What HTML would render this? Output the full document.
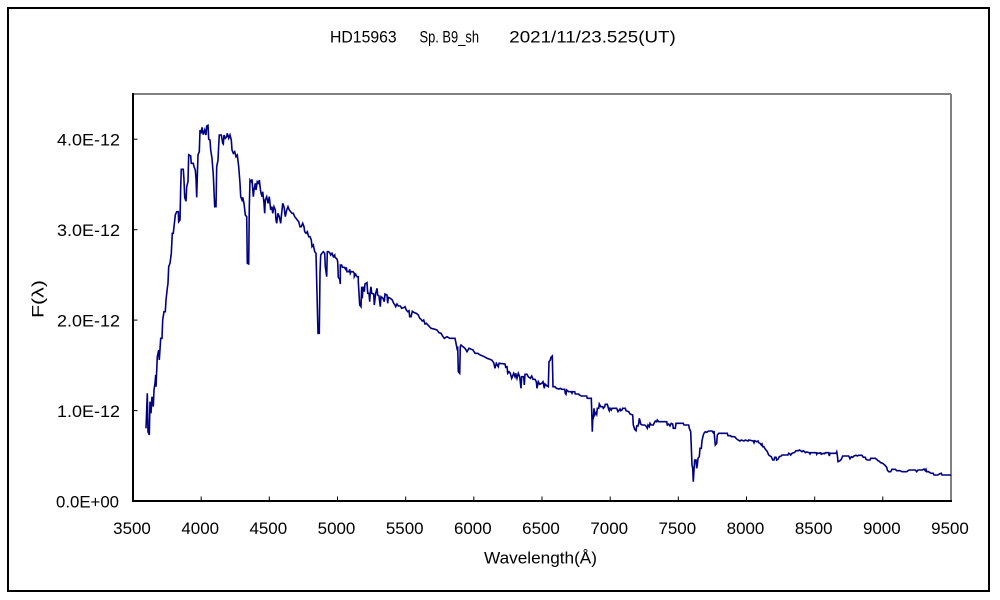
<!DOCTYPE html>
<html><head><meta charset="utf-8"><style>
html,body{margin:0;padding:0;background:#fff;}
svg{display:block;}
text{font-family:"Liberation Sans","Noto Sans CJK JP",sans-serif;font-size:17px;fill:#000;}
</style></head><body>
<svg width="1000" height="600" viewBox="0 0 1000 600" xmlns="http://www.w3.org/2000/svg">
<rect x="0" y="0" width="1000" height="600" fill="#fff"/>
<rect x="8" y="8" width="981" height="583" fill="none" stroke="#000" stroke-width="2"/>
<!-- plot border -->
<line x1="133" y1="94" x2="951" y2="94" stroke="#808080" stroke-width="2"/>
<line x1="951" y1="94" x2="951" y2="502" stroke="#808080" stroke-width="2"/>
<line x1="133" y1="93" x2="133" y2="502" stroke="#000" stroke-width="2"/>
<line x1="132" y1="501" x2="952" y2="501" stroke="#000" stroke-width="2"/>
<!-- ticks -->
<g stroke="#000" stroke-width="1">
<line x1="133" y1="139.2" x2="137.5" y2="139.2"/>
<line x1="133" y1="229.7" x2="137.5" y2="229.7"/>
<line x1="133" y1="320.1" x2="137.5" y2="320.1"/>
<line x1="133" y1="410.6" x2="137.5" y2="410.6"/>
<line x1="201.2" y1="496.5" x2="201.2" y2="501"/>
<line x1="269.3" y1="496.5" x2="269.3" y2="501"/>
<line x1="337.5" y1="496.5" x2="337.5" y2="501"/>
<line x1="405.7" y1="496.5" x2="405.7" y2="501"/>
<line x1="473.8" y1="496.5" x2="473.8" y2="501"/>
<line x1="542" y1="496.5" x2="542" y2="501"/>
<line x1="610.2" y1="496.5" x2="610.2" y2="501"/>
<line x1="678.3" y1="496.5" x2="678.3" y2="501"/>
<line x1="746.5" y1="496.5" x2="746.5" y2="501"/>
<line x1="814.7" y1="496.5" x2="814.7" y2="501"/>
<line x1="882.8" y1="496.5" x2="882.8" y2="501"/>
</g>
<!-- title -->
<text x="330" y="42.7" textLength="66.7" lengthAdjust="spacingAndGlyphs">HD15963</text>
<text x="419.5" y="42.7" textLength="59.5" lengthAdjust="spacingAndGlyphs">Sp. B9_sh</text>
<text x="509.3" y="42.7" textLength="166.4" lengthAdjust="spacingAndGlyphs">2021/11/23.525(UT)</text>
<!-- y labels -->
<g text-anchor="end">
<text x="120" y="145.7" textLength="63" lengthAdjust="spacingAndGlyphs">4.0E-12</text>
<text x="120" y="236.2" textLength="63" lengthAdjust="spacingAndGlyphs">3.0E-12</text>
<text x="120" y="326.6" textLength="63" lengthAdjust="spacingAndGlyphs">2.0E-12</text>
<text x="120" y="417.1" textLength="63" lengthAdjust="spacingAndGlyphs">1.0E-12</text>
<text x="119" y="507.5" textLength="63" lengthAdjust="spacingAndGlyphs">0.0E+00</text>
</g>
<!-- x labels -->
<g text-anchor="middle">
<text x="132" y="534" textLength="37.7" lengthAdjust="spacingAndGlyphs">3500</text>
<text x="200.2" y="534" textLength="37.7" lengthAdjust="spacingAndGlyphs">4000</text>
<text x="268.3" y="534" textLength="37.7" lengthAdjust="spacingAndGlyphs">4500</text>
<text x="336.5" y="534" textLength="37.7" lengthAdjust="spacingAndGlyphs">5000</text>
<text x="404.7" y="534" textLength="37.7" lengthAdjust="spacingAndGlyphs">5500</text>
<text x="472.8" y="534" textLength="37.7" lengthAdjust="spacingAndGlyphs">6000</text>
<text x="541" y="534" textLength="37.7" lengthAdjust="spacingAndGlyphs">6500</text>
<text x="609.2" y="534" textLength="37.7" lengthAdjust="spacingAndGlyphs">7000</text>
<text x="677.3" y="534" textLength="37.7" lengthAdjust="spacingAndGlyphs">7500</text>
<text x="745.5" y="534" textLength="37.7" lengthAdjust="spacingAndGlyphs">8000</text>
<text x="813.7" y="534" textLength="37.7" lengthAdjust="spacingAndGlyphs">8500</text>
<text x="881.8" y="534" textLength="37.7" lengthAdjust="spacingAndGlyphs">9000</text>
<text x="950" y="534" textLength="37.7" lengthAdjust="spacingAndGlyphs">9500</text>
</g>
<text x="484" y="563.3" textLength="113" lengthAdjust="spacingAndGlyphs">Wavelength(Å)</text>
<text transform="translate(43.5,318) rotate(-90)" x="0" y="0" textLength="38" lengthAdjust="spacingAndGlyphs">F(λ)</text>
<!-- spectrum -->
<polyline fill="none" stroke="#000080" stroke-width="1.6" stroke-linejoin="miter" points="
146.0,428.3 147.3,393.3 148.0,431.7 149.3,435.0 150.0,401.7 151.0,413.3 152.0,396.7 153.3,406.7 154.0,390.0 155.0,383.3 155.7,375.0 156.0,386.7 157.3,356.7 158.7,350.0 159.3,360.0 160.7,338.3 162.0,338.3 162.7,320.0 164.0,311.7 165.3,311.7 166.0,300.0 167.3,288.3 168.0,283.3 168.7,266.7 170.0,263.3 171.3,253.3 172.3,233.3 173.3,233.3 174.0,226.7 175.3,215.0 176.7,211.7 178.3,211.7 178.7,221.7 180.0,220.0 180.7,186.7 181.3,169.3 183.3,169.3 184.0,180.0 184.7,197.3 186.0,201.3 186.7,186.7 188.0,181.7 188.7,154.7 190.7,156.0 191.3,163.3 193.3,163.3 194.0,166.7 195.3,170.0 196.0,178.3 196.7,197.3 197.3,176.7 198.0,154.7 199.3,151.7 200.0,130.0 201.3,133.3 202.0,127.3 203.3,134.7 204.7,130.0 206.0,135.0 206.7,126.0 208.0,125.3 208.7,139.3 210.0,140.0 210.7,150.0 212.0,158.3 213.3,175.0 214.7,206.7 216.0,206.7 216.7,166.7 218.0,160.0 218.7,145.0 219.3,135.0 221.3,135.0 222.7,143.3 223.3,144.0 224.0,135.0 225.3,138.3 226.7,136.7 227.3,133.3 228.7,138.3 230.0,135.0 231.3,140.0 232.0,150.0 233.3,153.3 234.7,151.7 236.0,156.7 237.3,155.0 238.7,166.7 240.0,183.3 240.7,196.7 242.0,200.0 242.7,197.3 244.0,203.3 245.3,215.0 246.7,216.7 247.3,263.3 248.7,264.0 249.3,206.7 250.0,180.0 251.3,181.7 252.0,179.3 253.3,196.7 254.0,190.0 254.7,186.7 255.3,183.3 256.0,190.0 257.3,181.7 258.7,183.3 259.3,180.0 260.7,191.7 262.0,196.7 262.7,191.7 264.0,203.3 264.7,213.3 265.3,200.0 266.7,196.7 268.0,203.3 269.3,196.7 270.7,210.0 272.0,206.7 272.7,213.3 274.0,206.7 275.3,210.0 276.0,220.0 276.7,223.3 278.0,213.3 279.3,216.7 280.7,223.3 281.3,216.7 282.7,203.3 284.0,206.7 285.3,216.7 286.7,210.0 288.0,206.7 289.3,210.0 290.7,211.7 292.0,213.3 293.3,213.3 294.7,216.7 296.0,218.3 297.3,220.0 298.7,221.7 300.0,226.7 301.3,226.7 302.7,223.3 304.0,226.7 304.7,231.7 306.0,233.3 307.3,231.7 308.7,236.7 310.0,236.7 311.3,240.0 312.0,246.7 313.3,245.0 314.7,251.7 316.0,253.3 316.7,281.7 318.0,333.3 319.3,333.3 320.0,273.3 320.7,255.0 322.0,253.3 323.3,251.7 324.7,253.3 325.3,266.7 326.7,276.7 327.3,251.7 328.7,251.7 330.0,253.3 330.7,255.0 332.0,253.3 333.3,256.7 334.7,255.0
335.0,257.3 337.0,259.0 337.7,261.7 338.3,277.3 339.7,279.3 340.3,284.0 340.3,265.0 341.7,265.0 342.3,267.3 344.3,267.3 345.7,269.3 346.3,267.3 347.0,271.7 349.0,271.7 349.7,269.3 350.3,273.3 351.0,271.7 353.0,271.7 354.3,273.3 354.3,276.7 355.7,274.3 357.0,276.7 358.3,276.7 358.3,281.7 359.7,305.0 361.0,306.7 361.7,286.7 362.3,298.3 363.0,286.7 364.3,291.7 365.0,284.0 367.0,282.7 367.7,293.3 369.0,293.3 369.7,301.7 370.3,291.7 371.0,286.7 371.7,293.3 373.7,294.0 374.3,305.0 375.7,293.3 377.0,288.3 377.7,295.0 379.0,296.0 380.3,306.7 381.0,296.7 383.0,298.3 384.3,301.7 385.0,294.0 387.0,295.0 387.7,303.3 388.3,297.3 390.3,298.3 392.3,300.0 393.7,303.3 395.0,305.0 395.7,306.7 397.0,304.0 398.3,306.0 400.3,306.0 401.7,308.3 403.7,307.7 405.0,306.7 406.3,310.0 407.7,311.7 409.0,310.7 409.7,316.7 411.0,316.7 412.3,311.3 414.3,312.7 416.3,313.3 418.3,315.0 419.7,318.3 421.0,319.3 422.3,321.0 423.7,320.0 425.0,324.0 426.3,323.3 431.0,328.3 435.0,329.3 437.0,330.0 439.0,332.7 441.0,333.3 443.0,336.7 444.3,338.3 447.0,336.7 449.7,338.3 455.0,338.3 455.7,341.7 457.0,348.3 457.7,346.7 458.3,371.7 459.7,373.3 460.3,346.7 461.0,345.0 463.0,346.7 465.0,348.3 467.0,351.7 469.0,348.3 473.0,350.0 475.0,353.3 477.7,353.3 480.3,355.0 484.3,356.7 487.0,358.3 491.7,360.0 493.7,362.7 495.0,368.3 496.3,363.3 498.3,366.7 499.0,363.3 505.0,364.0 505.7,367.3 507.0,366.7 507.7,373.3 509.0,371.7 510.3,373.3 511.7,378.3 513.7,373.3 515.0,376.7 515.7,373.3 517.0,378.3 518.3,373.3 519.7,376.7 521.0,388.3 521.7,376.7 523.7,376.7 524.3,385.0 525.0,374.3 527.0,374.3 528.3,376.7 530.3,378.3 531.7,376.0 533.0,379.3 535.0,379.3 536.3,381.7 537.0,388.3 538.3,381.7 539.7,384.3 541.7,383.3 543.0,381.7 544.3,388.3 545.0,384.0 547.0,386.0 548.3,386.7 549.0,361.7 550.3,360.0 551.0,357.3 552.3,356.0 553.0,386.7 555.0,386.7 556.3,388.3 559.0,389.0 560.3,388.3 561.7,389.3
562.7,389.3 564.7,389.3 565.3,393.3 566.0,394.3 566.7,390.0 568.7,391.7 571.3,391.7 572.0,393.3 572.7,391.7 574.7,391.7 575.3,394.0 578.7,394.0 579.3,395.0 581.3,396.0 586.7,396.0 587.3,398.3 591.3,398.3 591.7,410.0 592.3,431.7 592.7,420.0 593.3,418.3 594.0,408.3 594.7,415.0 596.0,412.7 596.7,414.3 597.3,408.3 598.7,408.3 599.3,404.0 600.7,406.7 602.7,406.7 603.3,408.3 604.7,406.7 605.3,404.3 607.3,404.3 608.7,409.3 609.3,410.7 610.0,408.3 611.3,410.0 612.0,408.3 616.7,408.3 617.3,410.0 618.0,411.7 619.3,410.0 620.0,409.0 620.7,410.7 622.0,410.0 622.7,408.3 625.3,408.3 626.0,410.7 628.7,411.7 630.0,414.0 632.7,415.0 633.3,425.0 634.7,429.3 636.0,430.7 636.7,426.0 638.0,426.0 638.7,423.3 639.3,418.3 640.0,420.7 640.7,424.0 642.0,425.0 644.7,425.0 646.0,426.0 647.3,428.3 648.0,425.0 649.3,426.7 650.0,423.3 651.3,425.0 653.3,425.0 654.0,423.3 655.3,421.0 656.7,421.7 657.3,420.0 658.7,421.7 666.7,421.7 667.3,425.0 668.7,424.0 670.0,426.0 671.3,423.3 672.7,424.0 673.3,428.3 675.3,428.3 676.0,423.3 683.3,423.3 684.0,425.0 688.7,425.0 689.3,428.3 690.7,431.7 691.3,446.7 692.0,465.0 692.7,468.3 693.3,481.7 694.0,470.0 694.7,460.0 696.0,460.0 696.7,468.3 697.3,465.0 698.0,458.3 699.3,456.7 700.0,448.3 701.3,448.3 702.0,440.7 703.3,435.0 704.0,433.3 705.3,431.7 706.7,432.3 708.7,431.0 712.0,431.0 713.3,432.7 714.0,431.0 715.3,445.0 716.7,443.3 717.3,435.0 718.7,433.3 727.3,433.3 728.0,435.7 730.7,435.7 731.3,436.7 734.7,436.7 736.0,438.3 738.0,440.0 740.0,441.0 741.3,440.0 744.0,441.0 745.3,440.0 748.0,441.0 748.7,440.0 753.3,441.0 754.0,442.7 754.7,440.7 756.7,441.7 758.0,441.0 758.7,442.7 760.0,443.3
761.3,445.0 762.0,444.0 762.7,446.7 764.0,446.7 764.7,448.3 766.0,450.0 767.3,451.7 768.7,455.0 770.0,456.0 771.3,456.7 772.7,460.0 774.0,460.0 774.7,457.3 776.0,457.3 776.7,460.0 778.0,459.3 779.3,456.7 781.3,456.0 782.0,455.0 788.0,455.0 788.7,453.3 790.0,454.0 790.7,455.0 792.0,453.3 794.0,452.7 795.3,451.7 796.0,450.7 798.7,450.7 799.3,450.0 800.7,450.7 802.0,451.7 803.3,450.7 804.7,451.7 805.3,452.7 806.7,452.0 809.3,452.7 810.0,454.0 810.7,452.7 816.0,452.7 816.7,454.3 817.3,453.0 818.7,453.3 820.7,452.7 821.3,454.3 823.3,453.3 824.7,453.7 825.3,452.7 828.7,452.7 829.3,456.0 830.0,453.3 836.0,453.3 836.7,451.7 837.3,455.0 838.0,461.7 840.0,460.7 841.3,459.3 842.7,456.0 848.7,456.0 850.0,458.7 851.3,456.7 852.7,457.3 854.0,456.0 856.0,455.3 857.3,456.0 858.7,455.3 862.0,455.3 863.3,457.3 865.3,457.3 866.0,459.3 867.3,460.0 870.0,460.0 870.7,458.3 875.3,458.3 876.7,459.3 878.0,460.7 879.3,461.3 880.7,462.7 882.7,463.3 884.7,465.0 886.7,467.3 887.3,470.0 888.7,471.7 890.7,471.7 892.0,469.3 895.3,469.3 896.7,470.7 900.0,470.7 902.0,471.7 906.7,471.7 908.0,470.7 909.3,470.0 915.3,470.0 916.7,471.7 918.0,470.0 922.7,470.0 924.0,469.0 925.3,470.7 926.0,469.3 926.7,471.7 928.7,471.7 930.0,472.7 931.3,473.3 933.3,473.3 934.0,475.0 938.0,475.0 939.3,474.0 941.3,473.3 942.0,475.0 950.0,475.0 951.0,475.7"/>
</svg>
</body></html>
